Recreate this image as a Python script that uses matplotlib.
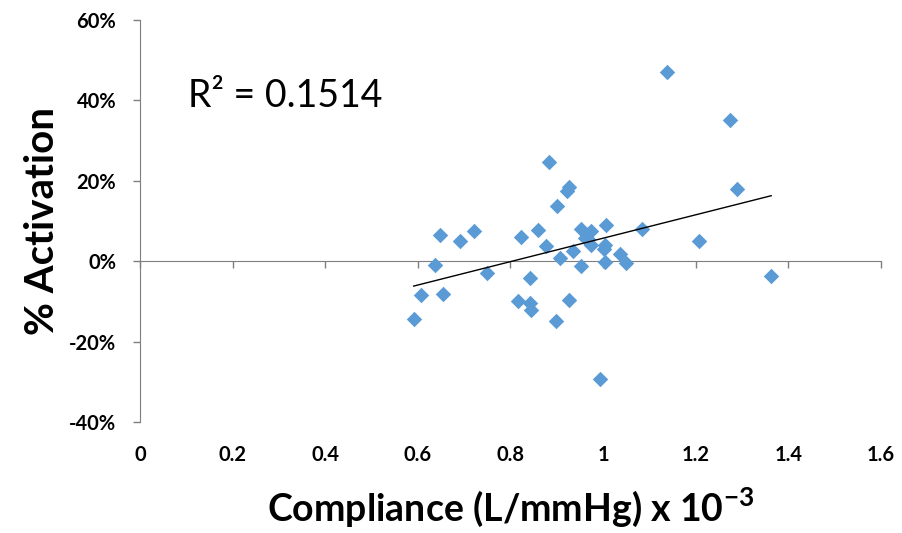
import numpy as np
import matplotlib
matplotlib.use("Agg")
import matplotlib.pyplot as plt

# Compliance (L/mmHg x 10^-3) and % activation
compliance = [0.883, 0.926, 0.922, 0.900, 0.647, 0.722, 0.692, 0.823, 0.859, 0.877,
              0.637, 0.749, 0.843, 0.607, 0.655, 0.591, 0.816, 0.843, 0.844, 0.899,
              0.927, 0.994, 0.908, 0.935, 0.953, 0.953, 0.973, 0.962, 0.974, 0.967,
              1.006, 1.005, 1.003, 1.005, 1.037, 1.049, 1.084, 1.207, 1.137, 1.273,
              1.290, 1.363]
activation = [24.7, 18.5, 17.5, 13.7, 6.5, 7.6, 5.1, 6.0, 7.7, 3.9,
              -0.9, -3.0, -4.2, -8.5, -8.1, -14.4, -9.8, -10.3, -12.1, -15.0,
              -9.6, -29.3, 0.8, 2.5, -1.3, 8.1, 7.5, 5.8, 4.0, 5.4,
              9.1, 4.1, 3.0, -0.3, 1.9, -0.5, 7.9, 5.0, 47.0, 35.0,
              17.9, -3.8]

x_ticks = [0, 0.2, 0.4, 0.6, 0.8, 1.0, 1.2, 1.4, 1.6]
x_labels = ["0", "0.2", "0.4", "0.6", "0.8", "1", "1.2", "1.4", "1.6"]
y_ticks = [-40, -20, 0, 20, 40, 60]
r2_text = "R\u00b2 = 0.1514"

plt.rcParams["font.family"] = ["Lato", "DejaVu Sans"]
plt.rcParams["mathtext.fontset"] = "custom"
plt.rcParams["mathtext.rm"] = "Lato"
plt.rcParams["mathtext.bf"] = "Lato:bold"

fig = plt.figure(figsize=(9.03, 5.33), dpi=100)
ax = fig.add_axes([0.155, 0.2083, 0.8206, 0.7542])

x = np.array(compliance)
y = np.array(activation)
ax.scatter(x, y, marker="D", s=62, color="#5B9BD5", linewidths=0, zorder=3)

# linear trendline
slope, intercept = np.polyfit(x, y, 1)
xs = np.array([x.min(), x.max()])
ax.plot(xs, slope * xs + intercept, color="black", lw=1.0, zorder=4)

ax.set_xlim(0, 1.6)
ax.set_ylim(-40, 60)

# axis styling like Excel: x axis crosses at 0, labels at the bottom
for side in ["top", "right"]:
    ax.spines[side].set_visible(False)
ax.spines["bottom"].set_position(("data", 0))
ax.spines["bottom"].set_color("#7f7f7f")
ax.spines["left"].set_color("#7f7f7f")
ax.spines["bottom"].set_zorder(2)

ax.set_xticks(x_ticks)
ax.set_xticklabels([])
ax.tick_params(axis="x", direction="out", length=5, color="#7f7f7f", width=1)
for t, lab in zip(x_ticks, x_labels):
    ax.text(t, -0.083, lab, transform=ax.get_xaxis_transform(),
            ha="center", va="center", fontsize=14.5, fontweight="bold")

ax.set_yticks(y_ticks)
ax.set_yticklabels([f"{v}%" for v in y_ticks], fontsize=14.5, fontweight="bold")
ax.tick_params(axis="y", direction="out", length=5, color="#7f7f7f", width=1, pad=12)

ax.set_ylabel("% Activation", fontsize=29, fontweight="bold", labelpad=6)
fig.text(0.565, 0.048, r"Compliance (L/mmHg) x 10$^{\mathbf{-3}}$",
         ha="center", va="center", fontsize=27, fontweight="bold")

ax.text(0.065, 0.81, r2_text, transform=ax.transAxes,
        ha="left", va="center", fontsize=27)

fig.savefig("out.png", dpi=100)
print("R2 of read data:", np.corrcoef(x, y)[0, 1] ** 2)
